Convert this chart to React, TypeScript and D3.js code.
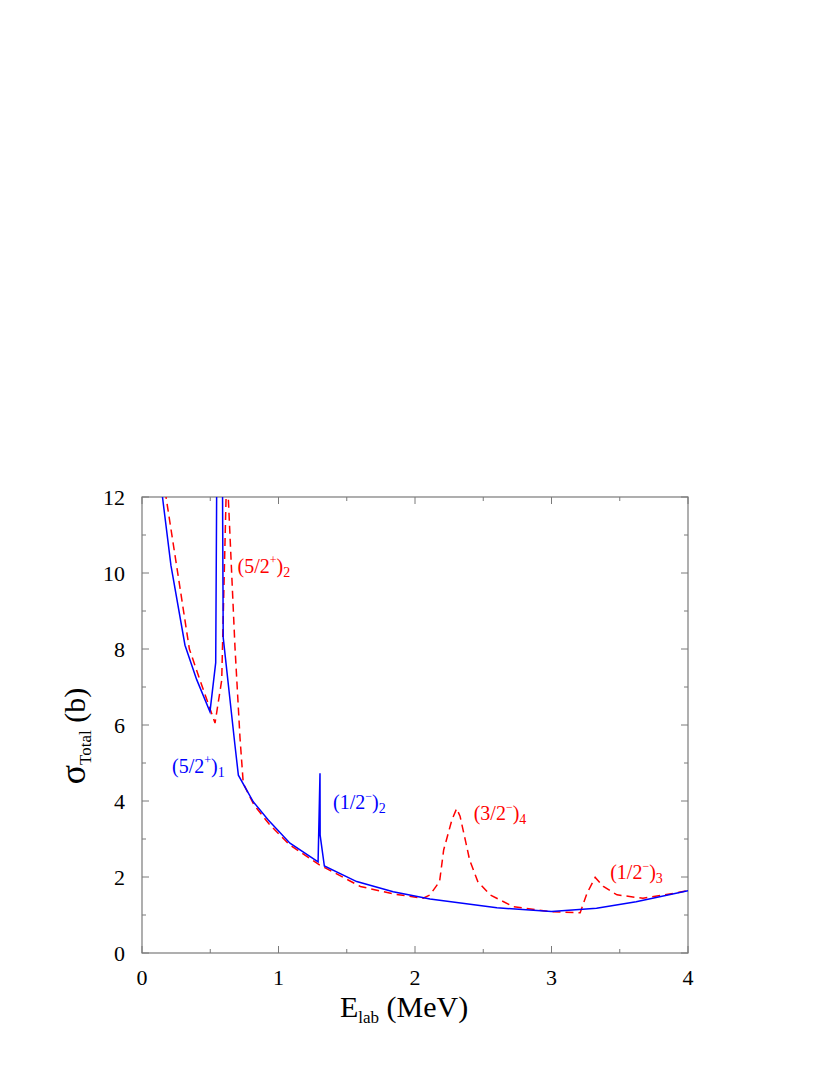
import React, { useEffect, useRef } from 'react';
import * as d3 from 'd3';

// blue solid curve: E (MeV), sigma (b)
const blueE = [0.12, 0.15, 0.212, 0.315, 0.40, 0.498, 0.54, 0.553, 0.585, 0.595, 0.68, 0.706, 0.815, 0.925, 1.084, 1.29, 1.304, 1.305, 1.336, 1.573, 1.84, 2.11, 2.6, 3.0, 3.33, 3.62, 4.0];
const blueS = [13.0, 12.0, 10.2, 8.1, 7.2, 6.35, 7.64, 16.0, 16.0, 8.3, 5.5, 4.68, 3.98, 3.5, 2.89, 2.40, 4.73, 3.1, 2.29, 1.88, 1.61, 1.42, 1.19, 1.09, 1.18, 1.35, 1.64];

// red dashed curve
const redE = [0.16, 0.176, 0.266, 0.347, 0.425, 0.535, 0.584, 0.616, 0.624, 0.632, 0.681, 0.718, 0.742, 0.82, 0.93, 1.08, 1.30, 1.6, 1.85, 2.06, 2.11, 2.18, 2.21, 2.27, 2.305, 2.33, 2.37, 2.40, 2.46, 2.55, 2.72, 2.99, 3.21, 3.26, 3.32, 3.38, 3.48, 3.67, 3.83, 4.0];
const redS = [12.5, 12.0, 9.9, 8.0, 7.18, 6.05, 7.18, 12.0, 13.2, 12.0, 8.06, 5.66, 4.46, 3.9, 3.4, 2.85, 2.32, 1.75, 1.55, 1.44, 1.53, 1.88, 2.71, 3.5, 3.8, 3.6, 2.95, 2.45, 1.88, 1.53, 1.22, 1.09, 1.06, 1.57, 1.99, 1.75, 1.53, 1.44, 1.53, 1.64];

const xTicks = [0, 1, 2, 3, 4];
const yTicks = [0, 2, 4, 6, 8, 10, 12];

// resonance labels: anchor in data units
const labels = [
  { base: '(5/2', sup: '+', sub: '2', e: 0.7, s: 10.0, color: '#ff0000' },
  { base: '(5/2', sup: '+', sub: '1', e: 0.22, s: 4.75, color: '#0000ff' },
  { base: '(1/2', sup: '\u2212', sub: '2', e: 1.4, s: 3.8, color: '#0000ff' },
  { base: '(3/2', sup: '\u2212', sub: '4', e: 2.43, s: 3.5, color: '#ff0000' },
  { base: '(1/2', sup: '\u2212', sub: '3', e: 3.43, s: 1.95, color: '#ff0000' },
];

const W = 830;
const H = 1075;
const margin = { left: 142, right: 142, top: 497, bottom: 122 };

const App: React.FC = () => {
  const svgRef = useRef<SVGSVGElement>(null);

  useEffect(() => {
    if (!svgRef.current) return;
    const svg = d3.select(svgRef.current);
    svg.selectAll('*').remove();

    const pw = W - margin.left - margin.right;
    const ph = H - margin.top - margin.bottom;

    const x = d3.scaleLinear().domain([0, 4]).range([0, pw]);
    const y = d3.scaleLinear().domain([0, 12]).range([ph, 0]);

    svg.append('defs').append('clipPath').attr('id', 'plotclip')
      .append('rect').attr('width', pw).attr('height', ph);

    const g = svg.append('g').attr('transform', `translate(${margin.left},${margin.top})`);
    const font = '"Liberation Serif", "Times New Roman", serif';
    const frameColor = '#7a7a7a';

    // ticks (inward, all four sides)
    const minorX = d3.range(0.5, 4, 1);
    const minorY = d3.range(1, 12, 2);
    const tick = (x1: number, y1: number, x2: number, y2: number) =>
      g.append('line').attr('x1', x1).attr('y1', y1).attr('x2', x2).attr('y2', y2)
        .attr('stroke', frameColor).attr('stroke-width', 1);
    xTicks.forEach(t => { tick(x(t), ph, x(t), ph - 7); tick(x(t), 0, x(t), 7); });
    minorX.forEach(t => { tick(x(t), ph, x(t), ph - 4); tick(x(t), 0, x(t), 4); });
    yTicks.forEach(t => { tick(0, y(t), 7, y(t)); tick(pw, y(t), pw - 7, y(t)); });
    minorY.forEach(t => { tick(0, y(t), 4, y(t)); tick(pw, y(t), pw - 4, y(t)); });

    g.append('rect').attr('width', pw).attr('height', ph)
      .attr('fill', 'none').attr('stroke', frameColor).attr('stroke-width', 1.2);

    // tick labels
    g.selectAll('.xl').data(xTicks).enter().append('text')
      .attr('x', d => x(d)).attr('y', ph + 32)
      .attr('text-anchor', 'middle').attr('font-family', font).attr('font-size', 22)
      .text(d => d);
    g.selectAll('.yl').data(yTicks).enter().append('text')
      .attr('x', -17).attr('y', d => y(d) + 7.5)
      .attr('text-anchor', 'end').attr('font-family', font).attr('font-size', 22)
      .text(d => d);

    // curves
    const line = d3.line<[number, number]>().x(d => x(d[0])).y(d => y(d[1]));
    const curves = g.append('g').attr('clip-path', 'url(#plotclip)');
    curves.append('path')
      .datum(redE.map((e, i) => [e, redS[i]] as [number, number]))
      .attr('fill', 'none').attr('stroke', '#ff0000').attr('stroke-width', 1.5)
      .attr('stroke-dasharray', '8,5').attr('d', line);
    curves.append('path')
      .datum(blueE.map((e, i) => [e, blueS[i]] as [number, number]))
      .attr('fill', 'none').attr('stroke', '#0000ff').attr('stroke-width', 1.5)
      .attr('d', line);

    // resonance labels
    labels.forEach(l => {
      const t = g.append('text').attr('x', x(l.e)).attr('y', y(l.s))
        .attr('font-family', font).attr('font-size', 20).attr('fill', l.color);
      t.append('tspan').text(l.base);
      t.append('tspan').attr('font-size', 12).attr('dy', -9).text(l.sup);
      t.append('tspan').attr('dy', 9).text(')');
      t.append('tspan').attr('font-size', 14).attr('dy', 4).text(l.sub);
    });

    // axis titles
    const xt = svg.append('text').attr('x', 340).attr('y', 1017)
      .attr('font-family', font).attr('font-size', 30);
    xt.append('tspan').text('E');
    xt.append('tspan').attr('font-size', 17).attr('dy', 6).text('lab');
    xt.append('tspan').attr('dy', -6).text(' (MeV)');

    const yt = svg.append('text').attr('transform', `translate(85,736) rotate(-90)`)
      .attr('text-anchor', 'middle').attr('font-family', font).attr('font-size', 30);
    yt.append('tspan').attr('font-size', 36).text('\u03c3');
    yt.append('tspan').attr('font-size', 17).attr('dy', 6).text('Total');
    yt.append('tspan').attr('dy', -6).text(' (b)');
  }, []);

  return (
    <div style={{ position: 'absolute', left: 0, top: 0, width: W, height: H, background: '#fff' }}>
      <svg ref={svgRef} width={W} height={H}></svg>
    </div>
  );
};

export default App;
